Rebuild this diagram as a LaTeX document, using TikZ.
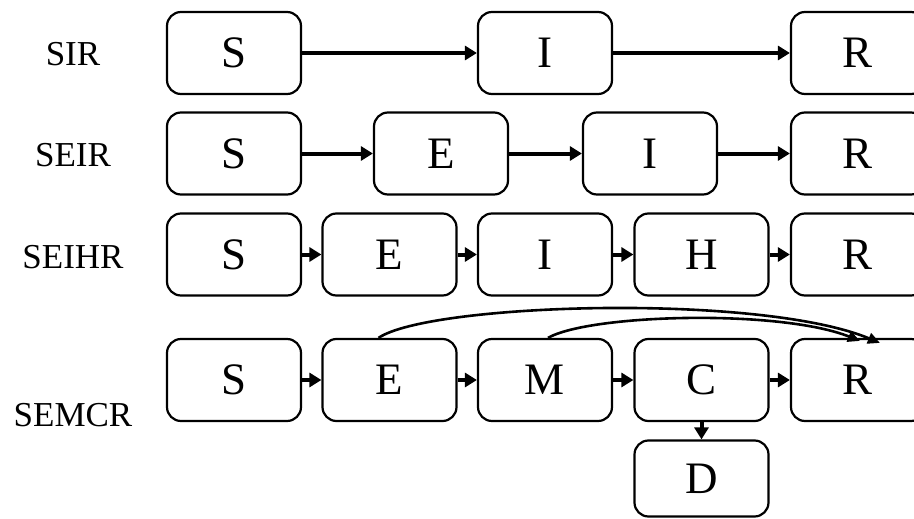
\documentclass[tikz,border=0pt]{standalone}
\usepackage{fontspec}
\setmainfont{Liberation Serif}
\usetikzlibrary{arrows.meta}
\begin{document}
\begin{tikzpicture}[x=1pt,y=-1pt,
  box/.style={draw=black,line width=2.2pt,rounded corners=14pt,minimum width=134pt,minimum height=82pt,inner sep=0pt,font=\fontsize{45}{50}\selectfont},
  lbl/.style={font=\fontsize{35}{40}\selectfont,inner sep=0pt},
  arr/.style={line width=4pt,-{Triangle[length=12pt,width=14pt]}},
  arc/.style={line width=2.6pt,-{Triangle[length=12pt,width=11pt]}}]
\clip (0,0) rectangle (914,519);
% row 1
\node[lbl] (l1) at (73,54) {SIR};
\node[box] (S1) at (234,53) {S};
\node[box] (I1) at (545,53) {I};
\node[box] (R1) at (858,53) {R};
\draw[arr] (S1) -- (I1);
\draw[arr] (I1) -- (R1);
% row 2
\node[lbl] (l2) at (73,155) {SEIR};
\node[box] (S2) at (234,153.5) {S};
\node[box] (E2) at (441,153.5) {E};
\node[box] (I2) at (650,153.5) {I};
\node[box] (R2) at (858,153.5) {R};
\draw[arr] (S2) -- (E2);
\draw[arr] (E2) -- (I2);
\draw[arr] (I2) -- (R2);
% row 3
\node[lbl] (l3) at (73,257) {SEIHR};
\node[box] (S3) at (234,254.5) {S};
\node[box] (E3) at (389.5,254.5) {E};
\node[box] (I3) at (545,254.5) {I};
\node[box] (H3) at (701.5,254.5) {H};
\node[box] (R3) at (858,254.5) {R};
\draw[arr] (S3) -- (E3);
\draw[arr] (E3) -- (I3);
\draw[arr] (I3) -- (H3);
\draw[arr] (H3) -- (R3);
% row 4
\node[lbl] (l4) at (73,415) {SEMCR};
\node[box] (S4) at (234,380) {S};
\node[box] (E4) at (389.5,380) {E};
\node[box] (M4) at (545,380) {M};
\node[box] (C4) at (701.5,380) {C};
\node[box] (R4) at (858,380) {R};
\node[box,minimum height=76pt] (D4) at (701.5,478.5) {D};
\draw[arr] (S4) -- (E4);
\draw[arr] (E4) -- (M4);
\draw[arr] (M4) -- (C4);
\draw[arr] (C4) -- (R4);
\draw[arr] (C4) -- (D4);
\coordinate (t1) at ([xshift=90pt,yshift=-5pt]R4.north west);
\coordinate (t2) at ([xshift=70pt,yshift=-3pt]R4.north west);
\draw[arc] ([xshift=-11pt]E4.north) .. controls (430,303) and (760,293) .. (t1);
\draw[arc] ([xshift=3pt]M4.north) .. controls (590,314) and (780,309) .. (t2);
\end{tikzpicture}
\end{document}
